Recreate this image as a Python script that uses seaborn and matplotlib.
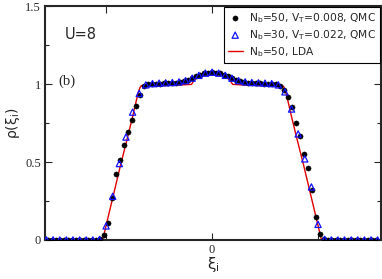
import numpy as np
import pandas as pd
import matplotlib
matplotlib.use("Agg")
import matplotlib.pyplot as plt
import seaborn as sns

# QMC, Nb=50, V_T=0.008 (one value per lattice site, sites -41..41)
vt_50 = 0.008
sites_50 = np.arange(-41, 42)
rho_50 = [
    0.0, 0.0, 0.0, 0.0, 0.0, 0.0, 0.0, 0.0, 0.0, 0.0, 0.0, 0.0, 0.0,
    0.004, 0.03, 0.11, 0.27, 0.42, 0.51, 0.61, 0.69, 0.77, 0.86, 0.93,
    0.985, 0.998, 1.0, 1.002, 1.003, 1.004, 1.005, 1.006, 1.008, 1.012,
    1.018, 1.027, 1.038, 1.05, 1.06, 1.068, 1.073,
    1.075,
    1.073, 1.068, 1.06, 1.05, 1.038, 1.027, 1.018, 1.012, 1.008, 1.006,
    1.005, 1.004, 1.003, 1.002, 1.0, 0.998, 0.99, 0.965, 0.92, 0.85,
    0.75, 0.67, 0.55, 0.46, 0.32, 0.15, 0.04, 0.005,
    0.0, 0.0, 0.0, 0.0, 0.0, 0.0, 0.0, 0.0, 0.0, 0.0, 0.0, 0.0, 0.0,
]

# QMC, Nb=30, V_T=0.022 (sites -25..25)
vt_30 = 0.022
sites_30 = np.arange(-25, 26)
rho_30 = [
    0.0, 0.0, 0.0, 0.0, 0.0, 0.0, 0.0, 0.0,
    0.003, 0.09, 0.28, 0.49, 0.66, 0.82, 0.94, 0.995, 1.003, 1.006,
    1.008, 1.01, 1.014, 1.022, 1.038, 1.056, 1.07,
    1.076,
    1.07, 1.056, 1.038, 1.022, 1.014, 1.01, 1.008, 1.006, 1.003, 0.995,
    0.95, 0.84, 0.68, 0.52, 0.34, 0.10, 0.004,
    0.0, 0.0, 0.0, 0.0, 0.0, 0.0, 0.0, 0.0,
]

# LDA, Nb=50
xi_lda = [-3.74, -2.45, -2.35, -2.2, -2.05, -1.9, -1.78, -1.70, -1.65, -1.61,
          -1.58, -1.2, -0.8, -0.46, -0.40, -0.33, -0.25, -0.15, -0.07, 0.0,
          0.07, 0.15, 0.25, 0.33, 0.40, 0.46, 0.8, 1.2, 1.58, 1.61, 1.65,
          1.70, 1.78, 1.9, 2.05, 2.2, 2.35, 2.45, 3.78]
rho_lda = [0.0, 0.0, 0.12, 0.30, 0.48, 0.65, 0.79, 0.89, 0.95, 0.98,
           0.99, 0.99, 0.993, 0.998, 1.025, 1.045, 1.06, 1.072, 1.077, 1.079,
           1.077, 1.072, 1.06, 1.045, 1.025, 0.998, 0.993, 0.99, 0.99, 0.98,
           0.95, 0.89, 0.79, 0.65, 0.48, 0.30, 0.12, 0.0, 0.0]

df50 = pd.DataFrame({"xi": sites_50 * np.sqrt(vt_50), "rho": rho_50})
df30 = pd.DataFrame({"xi": sites_30 * np.sqrt(vt_30), "rho": rho_30})
dflda = pd.DataFrame({"xi": xi_lda, "rho": rho_lda})

sns.set_style("ticks")
plt.rcParams["font.family"] = ["DejaVu Sans"]

fig = plt.figure(figsize=(3.82, 2.79), dpi=100)
ax = fig.add_axes([0.118, 0.14, 0.879, 0.838])

sns.lineplot(data=dflda, x="xi", y="rho", ax=ax, color="#e00000", lw=1.0,
             label="N$_\\mathregular{b}$=50, LDA", zorder=2)
sns.scatterplot(data=df50, x="xi", y="rho", ax=ax, color="black", marker="o",
                s=14, edgecolor="black", linewidth=0.3, zorder=3,
                label="N$_\\mathregular{b}$=50, V$_\\mathregular{T}$=0.008, QMC")
sns.scatterplot(data=df30, x="xi", y="rho", ax=ax, marker="^", s=20,
                facecolor="none", edgecolor="#1010ff", linewidth=0.9, zorder=4,
                label="N$_\\mathregular{b}$=30, V$_\\mathregular{T}$=0.022, QMC")

ax.set_xlim(-3.74, 3.78)
ax.set_ylim(0, 1.5)

ax.set_yticks([0, 0.5, 1, 1.5])
ax.set_yticklabels(["0", "0.5", "1", "1.5"], family="Liberation Serif", fontsize=9)
ax.set_yticks([0.25, 0.75, 1.25], minor=True)
ax.set_xticks([-2.37, 0, 2.37])
ax.set_xticklabels(["", "0", ""], family="Liberation Serif", fontsize=9)
ax.tick_params(which="both", direction="in", top=True, right=True, width=0.8)
ax.tick_params(which="major", length=5, pad=3)
ax.tick_params(which="minor", length=3)
for sp in ax.spines.values():
    sp.set_linewidth(1.5)

ax.set_xlabel("ξ$_\\mathregular{i}$", fontsize=11, labelpad=-1)
ax.set_ylabel("ρ(ξ$_\\mathregular{i}$)", fontsize=10, labelpad=2)

ax.text(0.06, 0.86, "U=8", transform=ax.transAxes, fontsize=10.5)
ax.text(0.04, 0.665, "(b)", transform=ax.transAxes, fontsize=10.5,
        family="Liberation Serif")

handles, labels = ax.get_legend_handles_labels()
order = [1, 2, 0]
leg = ax.legend([handles[k] for k in order], [labels[k] for k in order],
                loc="upper right", fontsize=7.7, frameon=True, fancybox=False,
                framealpha=1, edgecolor="black", borderpad=0.35,
                labelspacing=0.3, handlelength=1.4, handletextpad=0.6,
                borderaxespad=0.1)
leg.get_frame().set_linewidth(0.8)

fig.savefig("out.png", dpi=100)
